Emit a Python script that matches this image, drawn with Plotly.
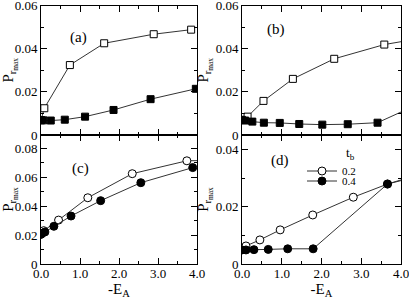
import plotly.graph_objects as go

# ---- data ----
a_open_x = [0.0, 0.085, 0.74, 1.62, 2.89, 3.85]
a_open_y = [0.0069, 0.0124, 0.0324, 0.0425, 0.0467, 0.0488]
a_fill_x = [0.0, 0.06, 0.25, 0.61, 1.13, 1.86, 2.81, 3.97]
a_fill_y = [0.0068, 0.0068, 0.0067, 0.0071, 0.0085, 0.0116, 0.0166, 0.0214]

b_open_x = [0.0, 0.14, 0.54, 1.28, 2.32, 3.58, 4.4]
b_open_y = [0.0070, 0.0085, 0.0158, 0.0260, 0.0353, 0.0419, 0.0445]
b_fill_x = [0.0, 0.08, 0.26, 0.55, 0.95, 1.44, 2.02, 2.66, 3.41, 4.4]
b_fill_y = [0.0070, 0.0067, 0.0062, 0.0057, 0.0056, 0.0051, 0.0048, 0.0050, 0.0057, 0.0140]

c_open_x = [0.0, 0.07, 0.45, 1.20, 2.34, 3.74, 4.4]
c_open_y = [0.0205, 0.0230, 0.0303, 0.0457, 0.0623, 0.0712, 0.0715]
c_fill_x = [0.0, 0.03, 0.10, 0.33, 0.77, 1.53, 2.56, 3.89]
c_fill_y = [0.0205, 0.0212, 0.0221, 0.0260, 0.0331, 0.0437, 0.0561, 0.0665]

d_open_x = [0.0, 0.10, 0.45, 0.96, 1.78, 2.80, 3.66, 4.4]
d_open_y = [0.0050, 0.0063, 0.0084, 0.0119, 0.0171, 0.0233, 0.0279, 0.0305]
d_fill_x = [0.0, 0.10, 0.30, 0.66, 1.15, 1.79, 3.66, 4.4]
d_fill_y = [0.0049, 0.0049, 0.0050, 0.0051, 0.0053, 0.0053, 0.0279, 0.0310]

legend_labels = ["0.2", "0.4"]
panel_labels = ["(a)", "(b)", "(c)", "(d)"]

x_ticks = [0, 1, 2, 3, 4]
x_ticktext = ["0.0", "1.0", "2.0", "3.0", "4.0"]
y_ticks_top = [0, 0.02, 0.04, 0.06]
y_ticktext_top = ["0", "0.02", "0.04", "0.06"]
y_ticks_c = [0, 0.02, 0.04, 0.06, 0.08]
y_ticktext_c = ["0", "0.02", "0.04", "0.06", "0.08"]
y_ticks_d = [0, 0.02, 0.04]
y_ticktext_d = ["0", "0.02", "0.04"]

FONT = "Liberation Serif, Times New Roman, Times, serif"
LINE = dict(color="#333333", width=1)

fig = go.Figure()

def add(xs, ys, symbol, filled, xa, ya, name=None, legend=None):
    kw = {}
    if legend:
        kw["legend"] = legend
    fig.add_trace(go.Scatter(
        x=xs, y=ys, mode="lines+markers", xaxis=xa, yaxis=ya,
        line=LINE, name=name, showlegend=bool(legend),
        marker=dict(symbol=symbol, size=7 if symbol == "square" else 8,
                    color="black" if filled else "white",
                    line=dict(color="black", width=1)),
        **kw,
    ))

add(a_open_x, a_open_y, "square", False, "x", "y")
add(a_fill_x, a_fill_y, "square", True, "x", "y")
add(b_open_x, b_open_y, "square", False, "x2", "y2")
add(b_fill_x, b_fill_y, "square", True, "x2", "y2")
add(c_open_x, c_open_y, "circle", False, "x3", "y3")
add(c_fill_x, c_fill_y, "circle", True, "x3", "y3")
add(d_open_x, d_open_y, "circle", False, "x4", "y4", legend_labels[0], "legend")
add(d_fill_x, d_fill_y, "circle", True, "x4", "y4", legend_labels[1], "legend2")

W, H = 409, 304
xl = [41 / W, 197 / W]
xr = [242 / W, 401 / W]
yt = [(H - 135) / H, (H - 5.5) / H]
yb = [(H - 264) / H, (H - 135) / H]

common_ax = dict(showgrid=False, zeroline=False, showline=True, linecolor="black",
                 linewidth=1, mirror="allticks", ticks="inside", ticklen=6,
                 tickcolor="black", automargin=False, ticklabeloverflow="allow",
                 tickfont=dict(family=FONT, size=13, color="black"))

def xaxis(domain, anchor, labels):
    d = dict(common_ax, domain=domain, anchor=anchor, range=[0, 4],
             tickvals=x_ticks, showticklabels=labels,
             minor=dict(dtick=0.5, tick0=0, ticks="inside", ticklen=3, tickcolor="black"))
    if labels:
        d["ticktext"] = x_ticktext
        d["ticklabelstandoff"] = -3
        d["title"] = dict(text="-E<sub>A</sub>", font=dict(family=FONT, size=15, color="black"),
                          standoff=2)
    return d

def yaxis(domain, anchor, rng, tv, tt):
    return dict(common_ax, domain=domain, anchor=anchor, range=rng,
                tickvals=tv, ticktext=tt,
                minor=dict(dtick=0.01, tick0=0, ticks="inside", ticklen=3, tickcolor="black"),
                title=dict(text="P<sub>r<sub>max</sub></sub>",
                           font=dict(family=FONT, size=15, color="black"), standoff=3))

leg_common = dict(xanchor="left", yanchor="middle", bgcolor="rgba(0,0,0,0)",
                  font=dict(family=FONT, size=11, color="black"),
                  itemwidth=30, borderwidth=0)

fig.update_layout(
    width=W, height=H, margin=dict(l=0, r=0, t=0, b=0),
    paper_bgcolor="white", plot_bgcolor="white",
    font=dict(family=FONT, color="black"),
    xaxis=xaxis(xl, "y", False), yaxis=yaxis(yt, "x", [0, 0.06], y_ticks_top, y_ticktext_top),
    xaxis2=xaxis(xr, "y2", False), yaxis2=yaxis(yt, "x2", [0, 0.06], y_ticks_top, y_ticktext_top),
    xaxis3=xaxis(xl, "y3", True), yaxis3=yaxis(yb, "x3", [0, 0.089], y_ticks_c, y_ticktext_c),
    xaxis4=xaxis(xr, "y4", True), yaxis4=yaxis(yb, "x4", [0, 0.045], y_ticks_d, y_ticktext_d),
    showlegend=True,
    legend=dict(leg_common, x=302 / W, y=(H - 171) / H),
    legend2=dict(leg_common, x=302 / W, y=(H - 181) / H),
)

label_pos = [("x", "y", 0.95, 0.0453), ("x2", "y2", 0.85, 0.049),
             ("x3", "y3", 1.0, 0.066), ("x4", "y4", 0.95, 0.036)]
for lab, (xa, ya, px, py) in zip(panel_labels, label_pos):
    fig.add_annotation(text=lab, x=px, y=py, xref=xa, yref=ya, showarrow=False,
                       font=dict(family=FONT, size=15, color="black"))

fig.add_annotation(text="t<sub>b</sub>", x=2.73, y=0.0385, xref="x4", yref="y4",
                   showarrow=False, font=dict(family=FONT, size=13, color="black"))

fig.write_html("out.html", config={"displayModeBar": False},
               post_script="document.body.style.margin='0';")
